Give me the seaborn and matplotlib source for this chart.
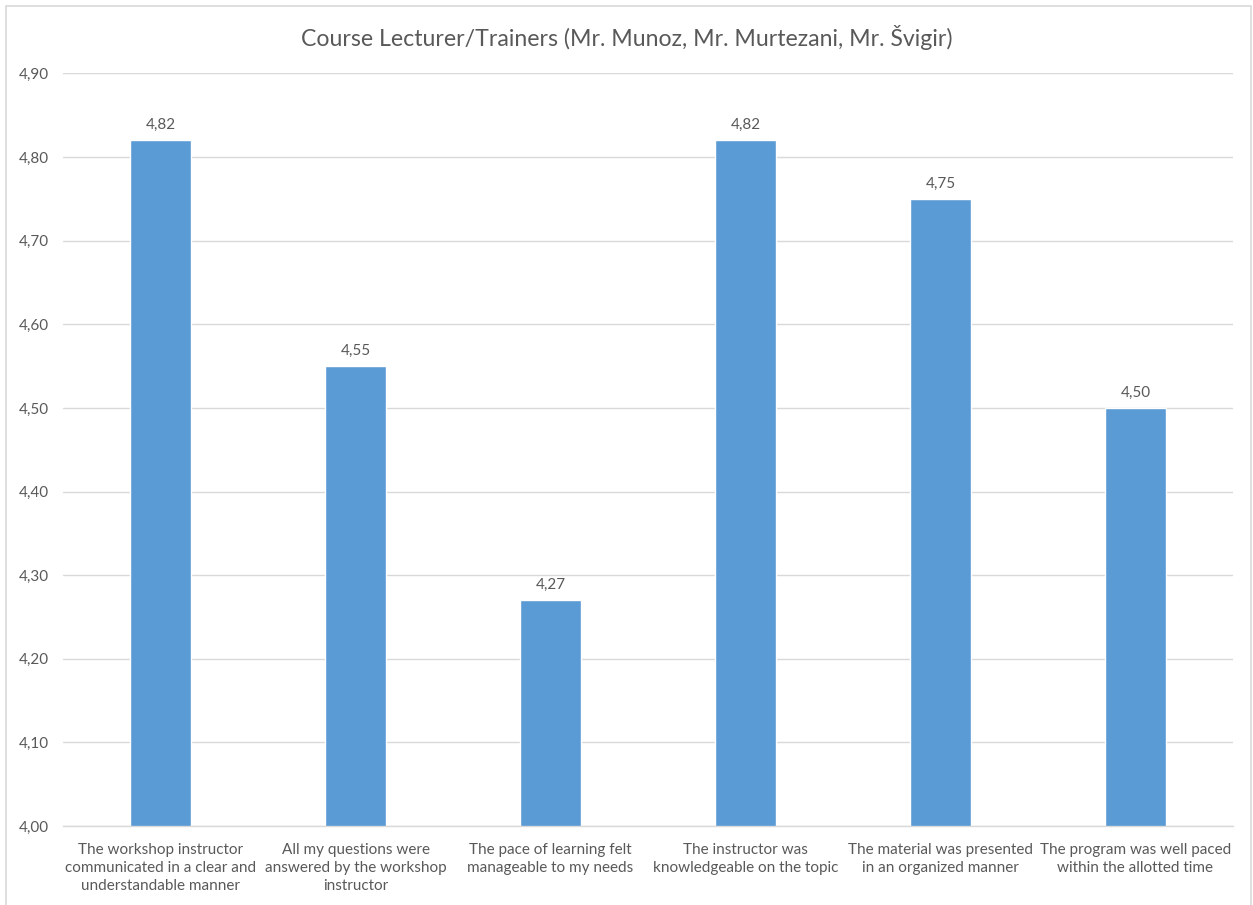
import matplotlib
matplotlib.use("Agg")
import matplotlib.pyplot as plt
import seaborn as sns
import pandas as pd
from matplotlib.patches import Rectangle
from matplotlib.ticker import FuncFormatter

categories = [
    "The workshop instructor\ncommunicated in a clear and\nunderstandable manner",
    "All my questions were\nanswered by the workshop\ninstructor",
    "The pace of learning felt\nmanageable to my needs",
    "The instructor was\nknowledgeable on the topic",
    "The material was presented\nin an organized manner",
    "The program was well paced\nwithin the allotted time",
]
scores = [4.82, 4.55, 4.27, 4.82, 4.75, 4.50]
y_ticks = [4.00, 4.10, 4.20, 4.30, 4.40, 4.50, 4.60, 4.70, 4.80, 4.90]
title = "Course Lecturer/Trainers (Mr. Munoz, Mr. Murtezani, Mr. Švigir)"

sns.set_theme(style="white")
plt.rcParams["font.family"] = ["Lato", "DejaVu Sans"]

TEXT = "#595959"
GRID = "#D9D9D9"
BAR = "#5B9BD5"
FS = 11

df = pd.DataFrame({"item": categories, "score": scores})

fig = plt.figure(figsize=(12.53, 9.05), dpi=100)
ax = fig.add_axes([0.0503, 0.0873, 0.9337, 0.8315])

sns.barplot(data=df, x="item", y="score", color=BAR, saturation=1,
            width=0.313, ax=ax)

ax.set_ylim(4.0, 4.9)
ax.set_yticks(y_ticks)
ax.yaxis.set_major_formatter(FuncFormatter(lambda v, p: f"{v:.2f}".replace(".", ",")))
ax.set_xlim(-0.5, len(categories) - 0.5)
ax.grid(axis="y", color=GRID, linewidth=1)
ax.set_axisbelow(True)
for side in ["left", "right", "top"]:
    ax.spines[side].set_visible(False)
ax.spines["bottom"].set_color(GRID)
ax.spines["bottom"].set_linewidth(1)
ax.set_xlabel("")
ax.set_ylabel("")
ax.tick_params(axis="y", length=0, pad=10, labelsize=FS, labelcolor=TEXT)
ax.tick_params(axis="x", length=0, pad=12, labelsize=FS, labelcolor=TEXT)
for lbl in ax.get_xticklabels():
    lbl.set_linespacing(1.38)

for container in ax.containers:
    ax.bar_label(container, labels=[f"{v:.2f}".replace(".", ",") for v in scores],
                 padding=6, fontsize=FS, color=TEXT)

fig.text(0.5, 1 - 38 / 905, title, ha="center", va="center",
         fontsize=16.7, color=TEXT)

# chart frame
fig.patches.append(Rectangle((6 / 1253, -0.02), (1251 - 6) / 1253, 1 - 6 / 905 + 0.02,
                             transform=fig.transFigure, fill=False,
                             edgecolor=GRID, linewidth=1.2))

fig.savefig("out.png", dpi=100)
